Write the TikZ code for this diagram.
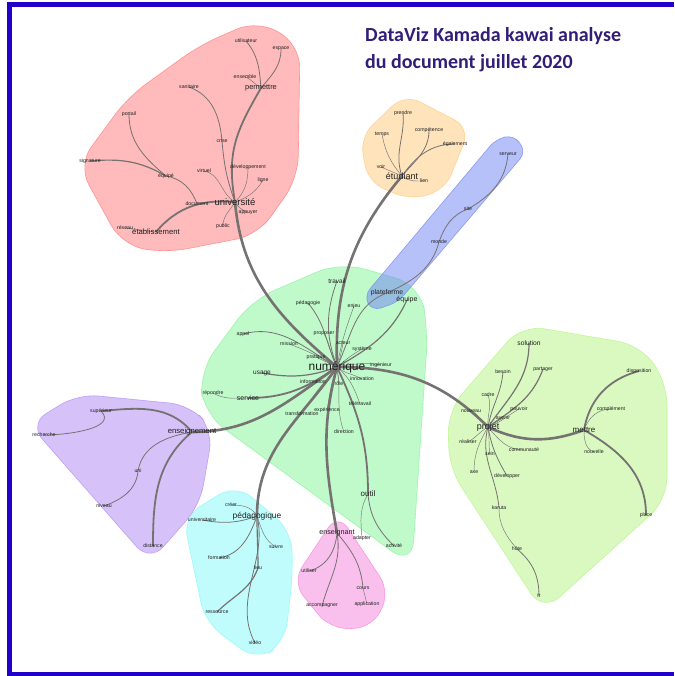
\documentclass[tikz,border=0pt]{standalone}
\usepackage{fontspec}
\setmainfont{Liberation Sans}
\newfontfamily\titlefont{Carlito}
\pgfdeclarelayer{hulls}
\pgfdeclarelayer{edges}
\pgfsetlayers{hulls,edges,main}
\definecolor{edgec}{RGB}{118,114,114}
\definecolor{bordc}{RGB}{34,0,204}
\definecolor{titlec}{RGB}{49,30,120}
\definecolor{hred}{RGB}{255,120,120}
\definecolor{hyel}{RGB}{255,200,120}
\definecolor{hblue}{RGB}{110,130,245}
\definecolor{hgreen}{RGB}{130,245,150}
\definecolor{hlime}{RGB}{180,245,130}
\definecolor{hpurp}{RGB}{175,135,245}
\definecolor{hcyan}{RGB}{130,250,250}
\definecolor{hpink}{RGB}{245,130,220}
\tikzset{
  lb/.style={inner sep=0pt,text=black!88,font=\fontsize{#1}{#1}\selectfont},
  lb/.default=5.2,
  hull/.style={fill=#1,fill opacity=0.5,draw=#1,draw opacity=0.7,line width=0.6pt},
  ea/.style={draw=edgec,line width=0.45pt},
  eb/.style={draw=edgec,line width=0.8pt},
  ec/.style={draw=edgec,line width=1.2pt},
  ed/.style={draw=edgec,line width=1.8pt},
  ee/.style={draw=edgec,line width=2.6pt}
}
\begin{document}
\begin{tikzpicture}[x=1pt,y=1pt]
\useasboundingbox (0,0) rectangle (674,-676);
\begin{pgfonlayer}{hulls}
\fill[white] (0,0) rectangle (674,-676);
\draw[hull=hred,rounded corners=22pt] (78,-165) -- (128,-97) -- (200,-45) -- (258,-20) -- (300,-45) -- (298,-178) -- (258,-235) -- (165,-253) -- (122,-245) -- cycle;
\draw[hull=hyel,rounded corners=17pt] (360,-137) -- (405,-94) -- (470,-128) -- (445,-190) -- (410,-200) -- (368,-182) -- cycle;
\draw[hull=hgreen,rounded corners=25pt] (199,-372) -- (252,-300) -- (340,-262) -- (420,-285) -- (428,-330) -- (412,-566) -- (204,-414) -- cycle;
\draw[hull=hblue,rounded corners=9pt] (496,-139) -- (514,-135) -- (526,-152) -- (398,-302) -- (372,-311) -- (364,-296) -- cycle;
\draw[hull=hlime,rounded corners=22pt] (448,-410) -- (522,-325) -- (640,-345) -- (667,-382) -- (667,-500) -- (543,-612) -- (449,-468) -- cycle;
\draw[hull=hpurp,rounded corners=20pt] (29,-424) -- (78,-394) -- (190,-405) -- (213,-430) -- (200,-505) -- (150,-562) -- cycle;
\draw[hull=hcyan,rounded corners=20pt] (183,-517) -- (236,-484) -- (291,-530) -- (293,-572) -- (285,-642) -- (257,-661) -- (205,-622) -- cycle;
\draw[hull=hpink,rounded corners=18pt] (292,-582) -- (338,-513) -- (390,-592) -- (372,-628) -- (330,-629) -- cycle;
\draw[bordc,line width=5pt] (9.5,-676) -- (9.5,-4.5) -- (674,-4.5);
\draw[bordc,line width=4pt] (9.5,-674) -- (674,-674);
\end{pgfonlayer}

% title
\node[anchor=base west,inner sep=0pt,text=titlec,font=\titlefont\bfseries\fontsize{20}{20}\selectfont] (t1) at (365,-42) {DataViz Kamada kawai analyse};
\node[anchor=base west,inner sep=0pt,text=titlec,font=\titlefont\bfseries\fontsize{20}{20}\selectfont] (t2) at (365,-69) {du document juillet 2020};

% red cluster
\node[lb] (utilisateur) at (246,-41) {utilisateur};
\node[lb] (espace) at (281,-49) {espace};
\node[lb] (ensemble) at (245,-77) {ensemble};
\node[lb=7.4] (permettre) at (261,-88) {permettre};
\node[lb] (sanitaire) at (189,-87) {sanitaire};
\node[lb] (portail) at (129,-114) {portail};
\node[lb] (crise) at (222,-141) {crise};
\node[lb] (signature) at (90,-161) {signature};
\node[lb] (developpement) at (248,-167) {développement};
\node[lb] (virtuel) at (204,-171) {virtuel};
\node[lb] (ligne) at (263,-180) {ligne};
\node[lb] (equipe2) at (166,-176) {équipé};
\node[lb] (document) at (197,-204) {document};
\node[lb=9.5] (universite) at (235,-202) {université};
\node[lb] (appuyer) at (248,-213) {appuyer};
\node[lb] (public) at (223,-226) {public};
\node[lb] (reseau) at (125,-228) {réseau};
\node[lb=7.7] (etablissement) at (156,-232) {établissement};

% yellow cluster
\node[lb] (prendre) at (403,-113) {prendre};
\node[lb] (temps) at (382,-134) {temps};
\node[lb] (competence) at (429,-130) {compétence};
\node[lb] (egalement) at (455,-144) {également};
\node[lb] (voir) at (381,-167) {voir};
\node[lb=9] (etudiant) at (402,-176) {étudiant};
\node[lb] (lien) at (424,-181) {lien};

% blue cluster
\node[lb] (serveur) at (508,-154) {serveur};
\node[lb] (site) at (468,-209) {site};
\node[lb] (monde) at (439,-242) {monde};
\node[lb=6.8] (plateforme) at (387,-293) {plateforme};
\node[lb=7] (equipe) at (407,-300) {équipe};

% green cluster
\node[lb=6.5] (travail) at (337,-281) {travail};
\node[lb] (pedagogie) at (308,-303) {pédagogie};
\node[lb] (enjeu) at (354,-306) {enjeu};
\node[lb] (appel) at (243,-334) {appel};
\node[lb] (proposer) at (324,-334) {proposer};
\node[lb] (mission) at (289,-344) {mission};
\node[lb] (acteur) at (343,-343) {acteur};
\node[lb] (systeme) at (362,-349) {système};
\node[lb] (pratique) at (316,-357) {pratique};
\node[lb=12] (numerique) at (337,-367) {numérique};
\node[lb] (ingenieur) at (381,-365) {ingénieur};
\node[lb=6.5] (usage) at (262,-373) {usage};
\node[lb] (information) at (313,-382) {information};
\node[lb] (innovation) at (362,-379) {innovation};
\node[lb] (role) at (339,-384) {rôle};
\node[lb] (repondre) at (213,-393) {répondre};
\node[lb=7] (service) at (248,-398) {service};
\node[lb] (teletravail) at (360,-404) {télétravail};
\node[lb] (experience) at (327,-410) {expérience};
\node[lb] (transformation) at (302,-414) {transformation};
\node[lb] (direction) at (344,-432) {direction};
\node[lb=8] (outil) at (368,-494) {outil};
\node[lb] (adapter) at (362,-538) {adapter};
\node[lb] (activite) at (394,-546) {activité};

% pink cluster
\node[lb=7.2] (enseignant) at (337,-533) {enseignant};
\node[lb] (utiliser) at (309,-571) {utiliser};
\node[lb] (cours) at (363,-588) {cours};
\node[lb] (accompagner) at (322,-606) {accompagner};
\node[lb] (application) at (367,-604) {application};

% lime cluster
\node[lb=6.7] (solution) at (529,-343) {solution};
\node[lb] (besoin) at (503,-372) {besoin};
\node[lb] (partager) at (543,-369) {partager};
\node[lb] (disposition) at (639,-371) {disposition};
\node[lb] (cadre) at (488,-395) {cadre};
\node[lb] (nouveau) at (471,-411) {nouveau};
\node[lb] (pouvoir) at (519,-409) {pouvoir};
\node[lb] (avenir) at (503,-418) {avenir};
\node[lb] (complement) at (611,-409) {complément};
\node[lb=9] (projet) at (488,-427) {projet};
\node[lb=8] (mettre) at (584,-430) {mettre};
\node[lb] (realiser) at (468,-442) {réaliser};
\node[lb] (communaute) at (524,-450) {communauté};
\node[lb] (sein) at (490,-454) {sein};
\node[lb] (nouvelle) at (594,-452) {nouvelle};
\node[lb] (axe) at (474,-472) {axe};
\node[lb] (developper) at (507,-476) {développer};
\node[lb] (karuta) at (499,-508) {karuta};
\node[lb] (place) at (646,-515) {place};
\node[lb] (hote) at (517,-549) {hôte};
\node[lb] (fr) at (539,-596) {fr};

% purple cluster
\node[lb] (superieur) at (101,-411) {supérieur};
\node[lb] (recherche) at (44,-435) {recherche};
\node[lb=7.7] (enseignement) at (192,-432) {enseignement};
\node[lb] (uni) at (138,-471) {uni};
\node[lb] (niveau) at (104,-506) {niveau};
\node[lb] (distance) at (153,-546) {distance};

% cyan cluster
\node[lb] (creer) at (231,-505) {créer};
\node[lb=8.4] (pedagogique) at (257,-516) {pédagogique};
\node[lb] (universitaire) at (202,-520) {universitaire};
\node[lb] (suivre) at (276,-547) {suivre};
\node[lb] (formation) at (219,-558) {formation};
\node[lb] (lieu) at (258,-568) {lieu};
\node[lb] (ressource) at (217,-612) {ressource};
\node[lb] (video) at (255,-643) {vidéo};

\begin{pgfonlayer}{edges}
% red
\draw[ee] (universite.center) to[out=-85,in=140] (numerique.center);
\draw[ed] (universite.center) to[out=100,in=-120,looseness=1.1] (permettre.center);
\draw[eb] (permettre.center) to[out=95,in=-50] (utilisateur.center);
\draw[eb] (permettre.center) to[out=50,in=-90] (espace.center);
\draw[ea] (ensemble.center) to[out=-20,in=150] (permettre.center);
\draw[eb] (sanitaire.center) to[out=-20,in=95] (crise.center);
\draw[eb] (crise.center) to[out=-85,in=110] (universite.center);
\draw[ea] (virtuel.center) to[out=-10,in=150] (universite.center);
\draw[ea] (developpement.center) to[out=-90,in=45] (universite.center);
\draw[ea] (ligne.center) to[out=-120,in=20] (universite.center);
\draw[ea] (universite.center) to[out=-60,in=150] (appuyer.center);
\draw[ea] (universite.center) to[out=-120,in=90] (public.center);
\draw[ed] (etablissement.center) to[out=50,in=175] (universite.center);
\draw[eb] (equipe2.center) to[out=-10,in=110] (document.center);
\draw[ec] (signature.center) to[out=5,in=150] (equipe2.center);
\draw[eb] (portail.center) to[out=-90,in=140] (equipe2.center);
\draw[ea] (reseau.center) -- (etablissement.center);
% yellow
\draw[ee] (numerique.center) to[out=92,in=-130] (etudiant.center);
\draw[eb] (etudiant.center) to[out=110,in=-85] (prendre.center);
\draw[ea] (etudiant.center) to[out=130,in=-80] (temps.center);
\draw[ea] (etudiant.center) -- (voir.center);
\draw[eb] (etudiant.center) to[out=50,in=-90] (competence.center);
\draw[eb] (etudiant.center) to[out=55,in=180] (egalement.center);
\draw[ea] (etudiant.center) to[out=-40,in=180] (lien.center);
% blue
\draw[eb] (serveur.center) to[out=-95,in=30] (site.center);
\draw[eb] (site.center) to[out=200,in=70] (monde.center);
\draw[eb] (monde.center) to[out=-105,in=25] (plateforme.center);
\draw[eb] (plateforme.center) to[out=200,in=65] (numerique.center);
\draw[ec] (equipe.center) to[out=-115,in=30] (numerique.center);
% green
\draw[eb] (numerique.center) to[out=110,in=-110] (travail.center);
\draw[eb] (numerique.center) to[out=115,in=-50] (pedagogie.center);
\draw[ea] (numerique.center) to[out=80,in=-110] (enjeu.center);
\draw[eb] (appel.center) to[out=15,in=150] (numerique.center);
\draw[ea] (mission.center) to[out=-20,in=150] (numerique.center);
\draw[ea] (proposer.center) to[out=-60,in=120] (numerique.center);
\draw[ea] (acteur.center) to[out=-100,in=70] (numerique.center);
\draw[ea] (systeme.center) to[out=-150,in=40] (numerique.center);
\draw[ea] (pratique.center) -- (numerique.center);
\draw[ea] (ingenieur.center) to[out=170,in=10] (numerique.center);
\draw[ec] (usage.center) to[out=-10,in=200] (numerique.center);
\draw[ea] (information.center) -- (numerique.center);
\draw[ea] (innovation.center) to[out=150,in=-40] (numerique.center);
\draw[ea] (role.center) -- (numerique.center);
\draw[ed] (service.center) to[out=0,in=215] (numerique.center);
\draw[ea] (repondre.center) to[out=-30,in=180] (service.center);
\draw[ea] (teletravail.center) to[out=110,in=-40] (numerique.center);
\draw[ea] (experience.center) to[out=80,in=-110] (numerique.center);
\draw[ea] (transformation.center) to[out=60,in=-130] (numerique.center);
\draw[ea] (direction.center) to[out=110,in=-80] (numerique.center);
\draw[ee] (numerique.center) to[out=215,in=0] (enseignement.center);
\draw[ee] (numerique.center) to[out=235,in=90] (pedagogique.center);
\draw[ee] (numerique.center) to[out=255,in=100] (enseignant.center);
\draw[ed] (numerique.center) to[out=-65,in=90] (outil.center);
\draw[ee] (numerique.center) to[out=0,in=135] (projet.center);
% lime
\draw[ee] (projet.center) to[out=-25,in=-160] (mettre.center);
\draw[ed] (mettre.center) to[out=80,in=195] (disposition.center);
\draw[ea] (mettre.center) to[out=70,in=180] (complement.center);
\draw[ea] (mettre.center) to[out=-90,in=160] (nouvelle.center);
\draw[ed] (mettre.center) to[out=-30,in=90] (place.center);
\draw[ec] (projet.center) to[out=55,in=-90] (solution.center);
\draw[ec] (projet.center) to[out=35,in=-110] (partager.center);
\draw[eb] (projet.center) to[out=80,in=-95] (besoin.center);
\draw[ea] (projet.center) to[out=95,in=-70] (cadre.center);
\draw[ea] (projet.center) to[out=150,in=-20] (nouveau.center);
\draw[ea] (projet.center) to[out=20,in=-150] (pouvoir.center);
\draw[ea] (projet.center) -- (avenir.center);
\draw[ea] (projet.center) to[out=-150,in=30] (realiser.center);
\draw[ea] (projet.center) to[out=-120,in=90] (axe.center);
\draw[ea] (projet.center) to[out=-80,in=100] (sein.center);
\draw[ea] (projet.center) to[out=-50,in=180] (communaute.center);
\draw[eb] (projet.center) to[out=-80,in=120] (developper.center);
\draw[eb] (projet.center) to[out=-105,in=95] (karuta.center);
\draw[ea] (karuta.center) to[out=-90,in=130] (hote.center);
\draw[eb] (hote.center) to[out=-40,in=90] (fr.center);
% purple
\draw[ed] (enseignement.center) to[out=130,in=5] (superieur.center);
\draw[eb] (superieur.center) to[out=-45,in=0] (recherche.center);
\draw[eb] (enseignement.center) to[out=190,in=80] (uni.center);
\draw[eb] (uni.center) to[out=-95,in=20] (niveau.center);
\draw[ed] (enseignement.center) to[out=220,in=90] (distance.center);
% cyan
\draw[ea] (pedagogique.center) to[out=120,in=0] (creer.center);
\draw[eb] (universitaire.center) to[out=-10,in=200] (pedagogique.center);
\draw[ea] (pedagogique.center) to[out=-70,in=150] (suivre.center);
\draw[eb] (pedagogique.center) to[out=-110,in=10] (formation.center);
\draw[ec] (pedagogique.center) to[out=-90,in=90] (lieu.center);
\draw[ec] (lieu.center) to[out=-110,in=45] (ressource.center);
\draw[eb] (pedagogique.center) .. controls (268,-560) and (232,-600) .. (video.center);
% pink
\draw[eb] (enseignant.center) to[out=-95,in=15] (utiliser.center);
\draw[eb] (enseignant.center) to[out=-80,in=75] (accompagner.center);
\draw[eb] (enseignant.center) to[out=-50,in=95] (cours.center);
\draw[ea] (cours.center) -- (application.center);
\draw[ea] (outil.center) to[out=-120,in=95] (adapter.center);
\draw[eb] (outil.center) to[out=-85,in=135] (activite.center);
\end{pgfonlayer}
\end{tikzpicture}
\end{document}
